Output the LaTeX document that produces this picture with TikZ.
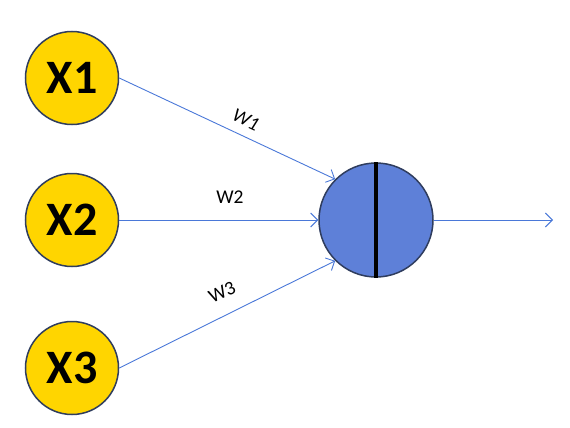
\documentclass[tikz,border=0pt]{standalone}
\usepackage{fontspec}
\setmainfont{Carlito}
\usetikzlibrary{arrows.meta}
\definecolor{inyellow}{HTML}{FFD500}
\definecolor{inborder}{HTML}{2F3D5E}
\definecolor{neuron}{HTML}{5E80D8}
\definecolor{wire}{HTML}{4A78D8}
\tikzset{
  input/.style={circle, fill=inyellow, draw=inborder, line width=1.5pt, minimum size=93pt, inner sep=0pt,
    font=\fontsize{48}{56}\selectfont\bfseries},
  neuronbox/.style={circle, fill=neuron, draw=inborder, line width=1.5pt, minimum size=114pt, inner sep=0pt},
  wirearrow/.style={draw=wire, line width=0.9pt, -{Straight Barb[length=7pt,width=14pt,line width=0.9pt]}},
  wlabel/.style={font=\fontsize{19.5}{23}\selectfont, inner sep=0pt}
}
\begin{document}
\begin{tikzpicture}[x=1pt,y=-1pt]
\useasboundingbox (0,0) rectangle (570,428);
\node[input] (x1) at (72,78) {X1};
\node[input] (x2) at (72,220) {X2};
\node[input] (x3) at (72,368) {X3};
\node[neuronbox] (n) at (376,220) {};
\draw[line width=4pt, black] (n.north) -- (n.south);
\coordinate (out) at (553,220);
\draw[wirearrow] (x1.east) -- (n.135);
\draw[wirearrow] (x2.east) -- (n.west);
\draw[wirearrow] (x3.east) -- (n.225);
\draw[wirearrow] (n.east) -- (out);
\node[wlabel, rotate=-25] (w1) at (246,120) {\textit{W1}};
\node[wlabel] (w2) at (230,197) {W2};
\node[wlabel, rotate=25] (w3) at (222,292) {W3};
\end{tikzpicture}
\end{document}
